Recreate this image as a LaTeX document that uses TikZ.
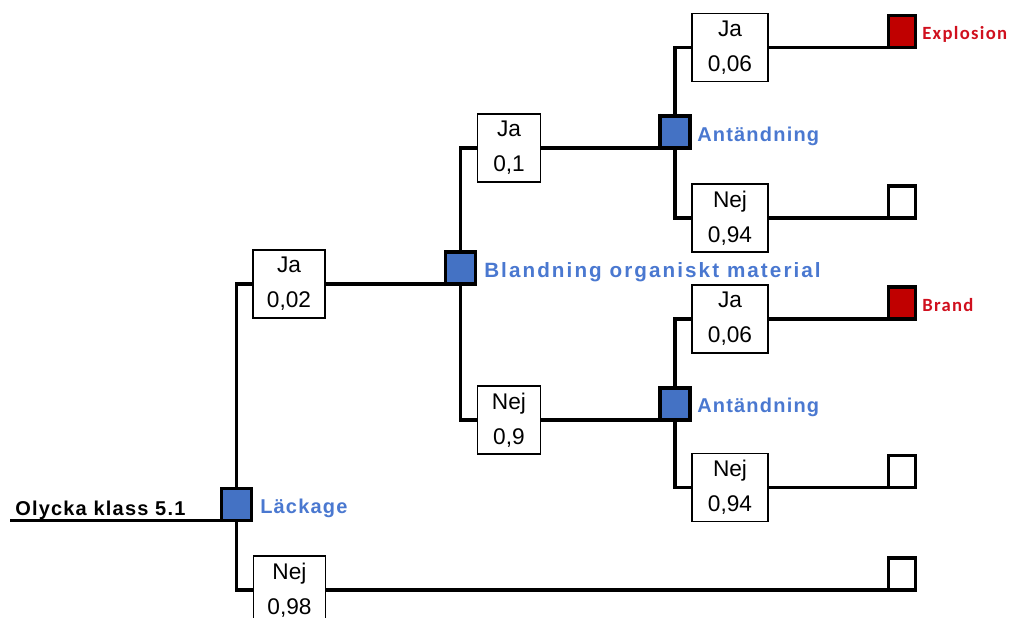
\documentclass[tikz,border=0pt]{standalone}
\usepackage{fontspec}
\setmainfont{Liberation Sans}
\newfontfamily\lblfont[LetterSpace=6]{Liberation Sans}
\newfontfamily\lblfontwide[LetterSpace=10]{Liberation Sans}
\newfontfamily\redfont[LetterSpace=7]{Carlito}
\definecolor{decblue}{HTML}{4472C4}
\definecolor{lblblue}{HTML}{4A78D0}
\definecolor{endred}{HTML}{C00000}
\definecolor{lblred}{HTML}{D0101E}
\begin{document}
\begin{tikzpicture}[x=0.75pt,y=-0.75pt,
  branch/.style={line width=2.5pt},
  decision/.style={draw=black,line width=2.5pt,fill=decblue,minimum width=22.5pt,minimum height=24pt,inner sep=0pt,outer sep=0pt},
  terminal/.style={draw=black,line width=2.5pt,minimum width=20.25pt,minimum height=24pt,inner sep=0pt,outer sep=0pt},
  outcome/.style={terminal,fill=endred},
  probbox/.style={draw=black,line width=1pt,fill=white,align=center,inner sep=0pt,minimum height=51pt,font=\fontsize{17}{26.25}\selectfont},
  wide/.style={probbox,minimum width=57pt},
  mid/.style={probbox,minimum width=54pt},
  narrow/.style={probbox,minimum width=47pt},
  bluelbl/.style={anchor=base west,inner sep=0pt,text=lblblue,font=\lblfont\bfseries\fontsize{15}{18}\selectfont},
  redlbl/.style={anchor=base west,inner sep=0pt,text=lblred,font=\redfont\bfseries\fontsize{14}{17}\selectfont}
]
\useasboundingbox (0,0) rectangle (1011,618);
\clip (0,0) rectangle (1011,618);

% decision squares
\node[decision] (L)  at (236.5,504.5) {};
\node[decision] (B)  at (460.5,268)   {};
\node[decision] (A1) at (675,132)     {};
\node[decision] (A2) at (675,404)     {};

% probability boxes
\node[mid]    (ja002)  at (289,284)   {Ja\\0,02};
\node[mid]    (nej098) at (289.5,590) {Nej\\0,98};
\node[narrow] (ja01)   at (509,148)   {Ja\\0,1};
\node[narrow] (nej09)  at (509,420)   {Nej\\0,9};
\node[wide]   (jaA)    at (730,47.5)  {Ja\\0,06};
\node[wide]   (nejA)   at (730,218)   {Nej\\0,94};
\node[wide]   (jaB)    at (730,319)   {Ja\\0,06};
\node[wide]   (nejB)   at (730,487.5) {Nej\\0,94};

% end squares
\node[outcome]  (T1) at (902,31.5)  {};
\node[terminal] (T2) at (902,202)   {};
\node[outcome]  (T3) at (902,303)   {};
\node[terminal] (T4) at (902,471.5) {};
\node[terminal] (T5) at (902,574)   {};

% root
\coordinate (start) at (10,520.5);
\draw[branch] (start) -- (L.south west);
\node[anchor=base west,inner sep=0pt,font=\lblfont\bfseries\fontsize{15}{18}\selectfont] (root) at (15,515) {Olycka klass 5.1};

% branches
\draw[branch] (L.north) |- (ja002.west);
\draw[branch] (L.south) |- (nej098.west);
\draw[branch] (ja002.east) -- (B.south west);
\draw[branch] (B.north) |- (ja01.west);
\draw[branch] (B.south) |- (nej09.west);
\draw[branch] (ja01.east) -- (A1.south west);
\draw[branch] (nej09.east) -- (A2.south west);
\draw[branch] (A1.north) |- (jaA.west);
\draw[branch] (A1.south) |- (nejA.west);
\draw[branch] (A2.north) |- (jaB.west);
\draw[branch] (A2.south) |- (nejB.west);
\draw[branch] (jaA.east) -- (T1.south west);
\draw[branch] (nejA.east) -- (T2.south west);
\draw[branch] (jaB.east) -- (T3.south west);
\draw[branch] (nejB.east) -- (T4.south west);
\draw[branch] (nej098.east) -- (T5.south west);

% redraw squares on top of lines
\node[decision] at (L) {};
\node[decision] at (B) {};
\node[decision] at (A1) {};
\node[decision] at (A2) {};

% labels
\node[bluelbl] (lL)  at (260,513) {Läckage};
\node[bluelbl,font=\lblfontwide\bfseries\fontsize{15.5}{18}\selectfont] (lB)  at (484,277) {Blandning organiskt material};
\node[bluelbl] (lA1) at (697,141) {Antändning};
\node[bluelbl] (lA2) at (697,412) {Antändning};
\node[redlbl]  (lT1) at (922,39)  {Explosion};
\node[redlbl]  (lT3) at (922,311) {Brand};
\end{tikzpicture}
\end{document}
